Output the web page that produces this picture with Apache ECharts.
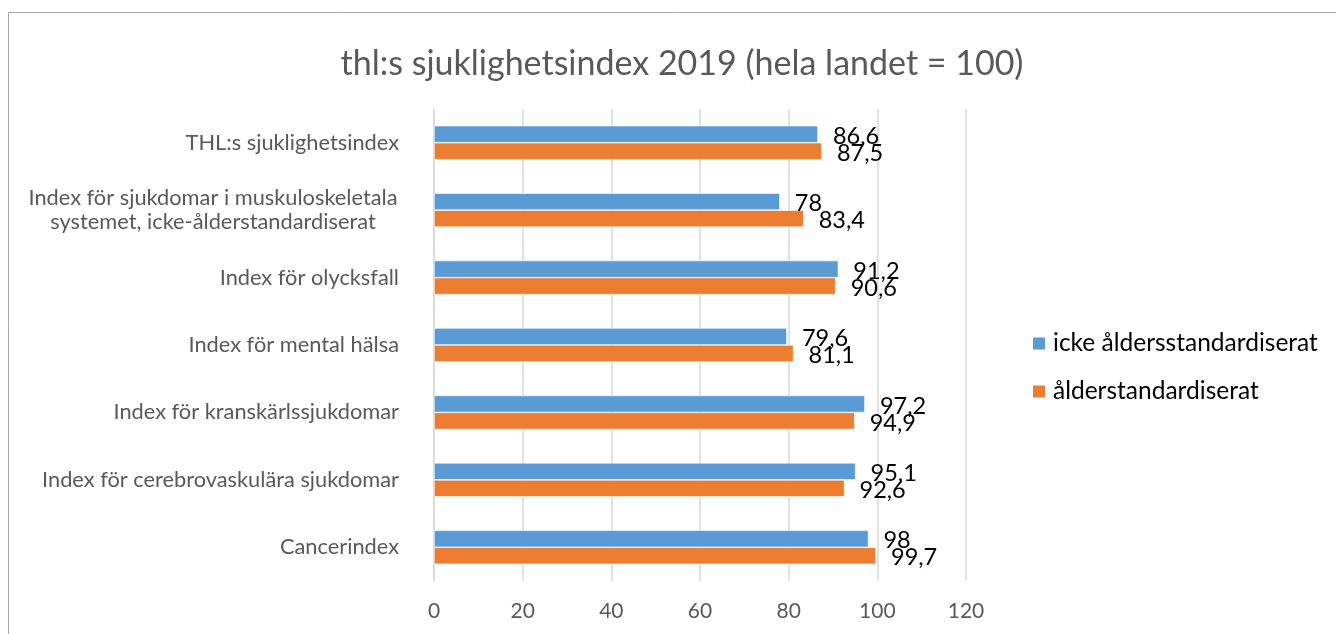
<!DOCTYPE html>
<html>
<head>
<meta charset="utf-8">
<script src="https://cdn.jsdelivr.net/npm/echarts@6/dist/echarts.min.js"></script>
<style>
  html, body { margin: 0; padding: 0; background: #fff; }
  #chart { width: 1336px; height: 634px; }
</style>
</head>
<body>
<div id="chart"></div>
<script>
// kategorier (nerifrån och upp, som i diagrammet)
let categories = [
  'Cancerindex',
  'Index för cerebrovaskulära sjukdomar',
  'Index för kranskärlssjukdomar',
  'Index för mental hälsa',
  'Index för olycksfall',
  'Index för sjukdomar i muskuloskeletala\nsystemet, icke-ålderstandardiserat',
  'THL:s sjuklighetsindex'
]
let seriesNames = ['icke åldersstandardiserat', 'ålderstandardiserat']
let ickeStd = [98, 95.1, 97.2, 79.6, 91.2, 78, 86.6]
let alderStd = [99.7, 92.6, 94.9, 81.1, 90.6, 83.4, 87.5]
let xTicks = [0, 120, 20] // min, max, steg

let font = 'Lato'

let myChart = echarts.init(document.querySelector('#chart'))

// svensk decimalkomma
function fmt(p) {
  return String(p.value).replace('.', ',')
}

function barSeries(name, data, color) {
  return {
    name: name,
    type: 'bar',
    barWidth: 17,
    barGap: '0%',
    itemStyle: {
      color: color,
      borderColor: '#fff',
      borderWidth: 0.6
    },
    label: {
      show: true,
      position: 'right',
      distance: 15,
      offset: [0, 2],
      formatter: fmt,
      color: '#000',
      fontSize: 23.5,
      fontFamily: font
    },
    data: data
  }
}

let option = {
  animation: false,
  graphic: [{
    type: 'rect',
    shape: { x: 8.5, y: 12.5, width: 1400, height: 700 },
    style: { fill: 'none', stroke: '#a6a6a6', lineWidth: 1 },
    silent: true
  }],
  title: {
    text: 'thl:s sjuklighetsindex 2019 (hela landet = 100)',
    left: 677,
    textAlign: 'center',
    top: 42,
    textStyle: {
      color: '#595959',
      fontWeight: 'normal',
      fontSize: 34,
      fontFamily: font
    }
  },
  legend: {
    orient: 'vertical',
    left: 1026,
    top: 326,
    icon: 'rect',
    itemWidth: 14,
    itemHeight: 14,
    itemGap: 23,
    data: seriesNames,
    textStyle: {
      color: '#000',
      fontSize: 24.5,
      fontFamily: font,
      padding: [0, 0, 0, 2]
    }
  },
  grid: {
    left: 434,
    right: 370,
    top: 109,
    bottom: 53,
    outerBoundsMode: 'none'
  },
  xAxis: {
    type: 'value',
    min: xTicks[0],
    max: xTicks[1],
    interval: xTicks[2],
    axisLine: { show: false },
    axisTick: { show: false },
    splitLine: { lineStyle: { color: '#d9d9d9', width: 1.5 } },
    axisLabel: {
      margin: 20,
      color: '#595959',
      fontSize: 21,
      fontFamily: font
    }
  },
  yAxis: {
    type: 'category',
    data: categories,
    axisTick: { show: false },
    axisLine: { lineStyle: { color: '#d9d9d9', width: 1.5 } },
    axisLabel: {
      margin: 35,
      color: '#595959',
      fontSize: 21.8,
      fontFamily: font,
      lineHeight: 24,
      // tvåradig etikett centreras rad för rad
      formatter: function (v) {
        if (v.indexOf('\n') == -1) return v
        return v.split('\n').map(s => '{w|' + s + '}').join('\n')
      },
      rich: {
        w: {
          width: 372,
          align: 'center',
          color: '#595959',
          fontSize: 21.8,
          fontFamily: font,
          lineHeight: 24
        }
      }
    }
  },
  series: [
    barSeries(seriesNames[0], ickeStd, '#5b9bd5'),
    barSeries(seriesNames[1], alderStd, '#ed7d31')
  ]
}
myChart.setOption(option)
</script>
</body>
</html>
